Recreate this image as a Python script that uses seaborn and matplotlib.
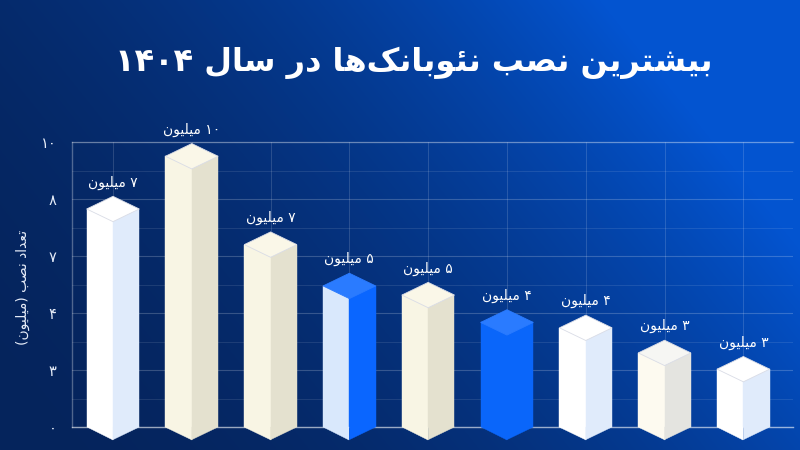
import re

import matplotlib
matplotlib.use('Agg')
import matplotlib.pyplot as plt
import numpy as np
import pandas as pd
import seaborn as sns
from matplotlib.patches import Polygon

# values (top face centre of each prism)
bar_ids = ['b1', 'b2', 'b3', 'b4', 'b5', 'b6', 'b7', 'b8', 'b9']
installs = [7.65, 9.5, 6.4, 4.95, 4.63, 3.67, 3.48, 2.6, 2.03]
bar_labels = ['۷ میلیون', '۱۰ میلیون', '۷ میلیون', '۵ میلیون', '۵ میلیون',
              '۴ میلیون', '۴ میلیون', '۳ میلیون', '۳ میلیون']
tick_values = [0, 2, 4, 6, 8, 10]
tick_labels = ['۰', '۳', '۴', '۷', '۸', '۱۰']
title_text = 'بیشترین نصب نئوبانک\u200cها در سال ۱۴۰۴'
ylabel_text = 'تعداد نصب (میلیون)'

# left face, right face, top face
WHITE = ('#ffffff', '#e0ebfb', '#ffffff')
CREAM = ('#f8f5e4', '#e4e1cf', '#faf7e8')
GREY = ('#fdfaf0', '#e4e4e0', '#f6f6f3')
HALF = ('#d9e8fc', '#0a66ff', '#2a7bff')
BLUE = ('#0a66fa', '#0a66fa', '#2a7bff')
bar_colors = [WHITE, CREAM, CREAM, HALF, CREAM, BLUE, WHITE, GREY, WHITE]

DEPTH = 0.445  # half height of the top diamond, y units

# matplotlib has no arabic shaping, so map to presentation forms by hand
FORMS = {
    'ا': '\uFE8D\uFE8E', 'د': '\uFEA9\uFEAA', 'ر': '\uFEAD\uFEAE', 'و': '\uFEED\uFEEE',
    'ب': '\uFE8F\uFE90\uFE91\uFE92', 'ت': '\uFE95\uFE96\uFE97\uFE98',
    'س': '\uFEB1\uFEB2\uFEB3\uFEB4', 'ش': '\uFEB5\uFEB6\uFEB7\uFEB8',
    'ص': '\uFEB9\uFEBA\uFEBB\uFEBC', 'ع': '\uFEC9\uFECA\uFECB\uFECC',
    'ک': '\uFB8E\uFB8F\uFB90\uFB91', 'ل': '\uFEDD\uFEDE\uFEDF\uFEE0',
    'م': '\uFEE1\uFEE2\uFEE3\uFEE4', 'ن': '\uFEE5\uFEE6\uFEE7\uFEE8',
    'ه': '\uFEE9\uFEEA\uFEEB\uFEEC', 'ی': '\uFBFC\uFBFD\uFBFE\uFBFF',
    'ئ': '\uFE89\uFE8A\uFE8B\uFE8C',
}


def shape(text):
    out = []
    i = 0
    while i < len(text):
        c = text[i]
        prev_joins = i > 0 and len(FORMS.get(text[i - 1], '')) == 4
        if c == 'ل' and text[i + 1:i + 2] == 'ا':
            out.append('\uFEFC' if prev_joins else '\uFEFB')
            i += 2
            continue
        if c in FORMS:
            f = FORMS[c]
            next_joins = i + 1 < len(text) and text[i + 1] in FORMS
            if len(f) == 4 and prev_joins and next_joins:
                out.append(f[3])
            elif len(f) == 4 and next_joins:
                out.append(f[2])
            elif prev_joins:
                out.append(f[1])
            else:
                out.append(f[0])
        elif c != '\u200c':
            out.append({'(': ')', ')': '('}.get(c, c))
        i += 1
    parts = re.split('([۰-۹]+)', ''.join(out))
    parts = [p if re.fullmatch('[۰-۹]+', p) else p[::-1] for p in parts]
    return ''.join(parts[::-1])


sns.set_theme(style='white')
plt.rcParams['font.family'] = ['DejaVu Sans']

fig = plt.figure(figsize=(8, 4.5), dpi=100)

# background gradient, lighter towards the upper right
bg = fig.add_axes([0, 0, 1, 1], zorder=0)
gx, gy = np.meshgrid(np.linspace(0, 1, 800), np.linspace(0, 1, 450))
t = np.clip((gx + 0.45 * (1 - gy)) / 1.2, 0, 1)[..., None] ** 2
dark = np.array([6, 36, 92]) / 255
bright = np.array([3, 84, 208]) / 255
bg.imshow(dark + (bright - dark) * t, aspect='auto', origin='upper', interpolation='bilinear')
bg.axis('off')

ax = fig.add_axes([72 / 800, 23 / 450, 721 / 800, 285 / 450], zorder=1)
ax.patch.set_alpha(0)

# every prism = two touching bars, one per visible side
long = pd.concat([
    pd.DataFrame({'bar': bar_ids, 'installs': installs, 'face': face})
    for face in ['left', 'right']
])
sns.barplot(data=long, x='bar', y='installs', hue='face', width=0.668, gap=0,
            saturation=1, legend=False, ax=ax, zorder=2)

for k in range(len(bar_ids)):
    left = ax.containers[0][k]
    right = ax.containers[1][k]
    c_left, c_right, c_top = bar_colors[k]
    left.set_facecolor(c_left)
    right.set_facecolor(c_right)
    left.set_edgecolor(c_left)
    right.set_edgecolor(c_right)
    left.set_linewidth(0.3)
    right.set_linewidth(0.3)
    h = left.get_height()
    x0 = left.get_x()
    xc = right.get_x()
    x1 = xc + right.get_width()
    # lower tips below the baseline
    ax.add_patch(Polygon([(x0, 0), (xc, 0), (xc, -DEPTH)], fc=c_left, ec=c_left, lw=0.3,
                         clip_on=False, zorder=3))
    ax.add_patch(Polygon([(xc, 0), (x1, 0), (xc, -DEPTH)], fc=c_right, ec=c_right, lw=0.3,
                         clip_on=False, zorder=3))
    edge = c_top if c_top == '#2a7bff' else '#d9dce6'
    ax.add_patch(Polygon([(x0, h), (xc, h + DEPTH), (x1, h), (xc, h - DEPTH)],
                         fc=c_top, ec=edge, lw=0.6, zorder=4))
    ax.annotate(shape(bar_labels[k]), (xc, h + DEPTH), xytext=(0, 10), textcoords='offset points',
                ha='center', va='center', color='white', fontsize=10)

ax.set_xlim(-0.52, 8.63)
ax.set_ylim(0, 10)
ax.set_xticks(range(len(bar_ids)))
ax.set_xticklabels([])
ax.set_yticks(tick_values, [shape(s) for s in tick_labels])
ax.set_yticks(range(0, 11), minor=True)
ax.tick_params(axis='both', which='both', length=0)
ax.tick_params(axis='y', colors='#e6ecf8', labelsize=10.5, pad=11)
ax.set_axisbelow(True)
ax.grid(axis='x', color='white', alpha=0.15, lw=0.7)
ax.grid(axis='y', which='major', color='white', alpha=0.2, lw=0.8)
ax.grid(axis='y', which='minor', color='white', alpha=0.1, lw=0.7)
ax.set_xlabel('')
ax.set_ylabel(shape(ylabel_text), color='#e6ecf8', fontsize=10, rotation=90)
ax.yaxis.set_label_coords(-0.058, 0.49)

for side, a in [('left', 0.3), ('top', 0.25), ('bottom', 0.6)]:
    ax.spines[side].set_color((1, 1, 1, a))
    ax.spines[side].set_linewidth(1.0)
    ax.spines[side].set_zorder(1)
ax.spines['right'].set_visible(False)

fig.text(414 / 800, 1 - 63 / 450, shape(title_text), ha='center', va='center', color='white',
         fontsize=23, fontweight='bold')

fig.savefig('out.png', dpi=100)
